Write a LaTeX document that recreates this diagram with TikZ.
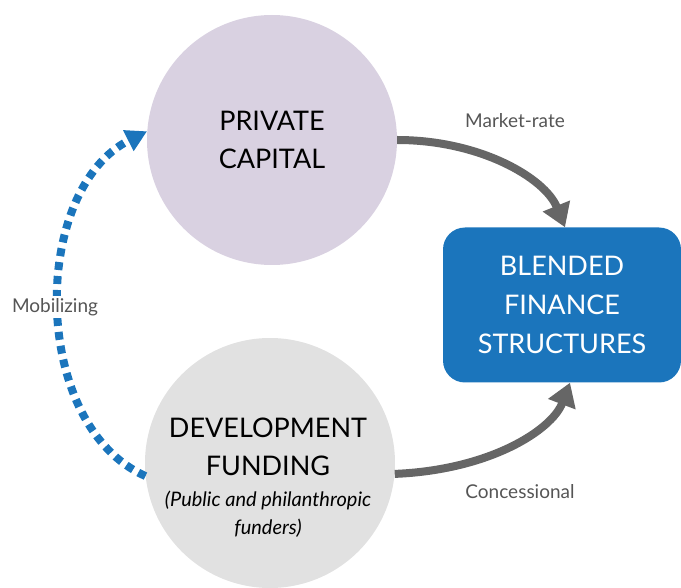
\documentclass[tikz,border=0pt]{standalone}
\usepackage{fontspec}
\setmainfont{Lato}
\usepackage{tikz}
\usetikzlibrary{arrows.meta,positioning}
\definecolor{privfill}{HTML}{D9D1E1}
\definecolor{devfill}{HTML}{E1E1E1}
\definecolor{blendblue}{HTML}{1B75BC}
\definecolor{flowgray}{HTML}{666666}
\definecolor{labelgray}{HTML}{555555}

\begin{document}
\begin{tikzpicture}
[x=1pt, y=-1pt, % pixel units, y downwards
bubble/.style={circle,minimum size=250pt,inner sep=0pt,align=center,
  font=\fontsize{27}{38}\selectfont},
flow/.style={draw=flowgray,line width=8pt,
  -{Triangle[length=23pt,width=28pt]}}, % thick gray arrow
mobil/.style={draw=blendblue,line width=8pt,dash pattern=on 8pt off 6pt,
  -{Triangle[length=21pt,width=22pt]}}, % dotted blue arrow
tag/.style={text=labelgray,font=\fontsize{19}{22}\selectfont}]
\useasboundingbox (0,0) rectangle (681,588);
\node[bubble,fill=privfill] (priv) at (272,140) {PRIVATE\\CAPITAL};
\node[bubble,fill=devfill] (dev) at (270,463) {};
\node[align=center,font=\fontsize{27}{38}\selectfont] (devtitle) at (268,447) {DEVELOPMENT\\FUNDING};
\node[align=center,font=\fontsize{20}{28}\itshape] (devnote) at (268,514) {(Public and philanthropic\\funders)};
\node[fill=blendblue,rounded corners=22pt,minimum width=238pt,minimum height=155pt,
  text=white,align=center,font=\fontsize{27}{39}\selectfont] (blend) at (562,305)
  {BLENDED\\FINANCE\\STRUCTURES};
\draw[flow] (priv.east) .. controls (480,140) and (545,178) .. ([xshift=3pt]blend.north);
\draw[flow] (dev.-5) .. controls (490,470) and (552,430) .. ([xshift=8pt]blend.south);
\draw[mobil] (dev.186) .. controls (30,425) and (30,190) .. (priv.176);
\node[tag,fill=white,inner sep=2pt] (mob) at (55,307) {Mobilizing};
\node[tag] (mkt) at (515,121) {Market-rate};
\node[tag] (conc) at (520,492) {Concessional};
\end{tikzpicture}
\end{document}
